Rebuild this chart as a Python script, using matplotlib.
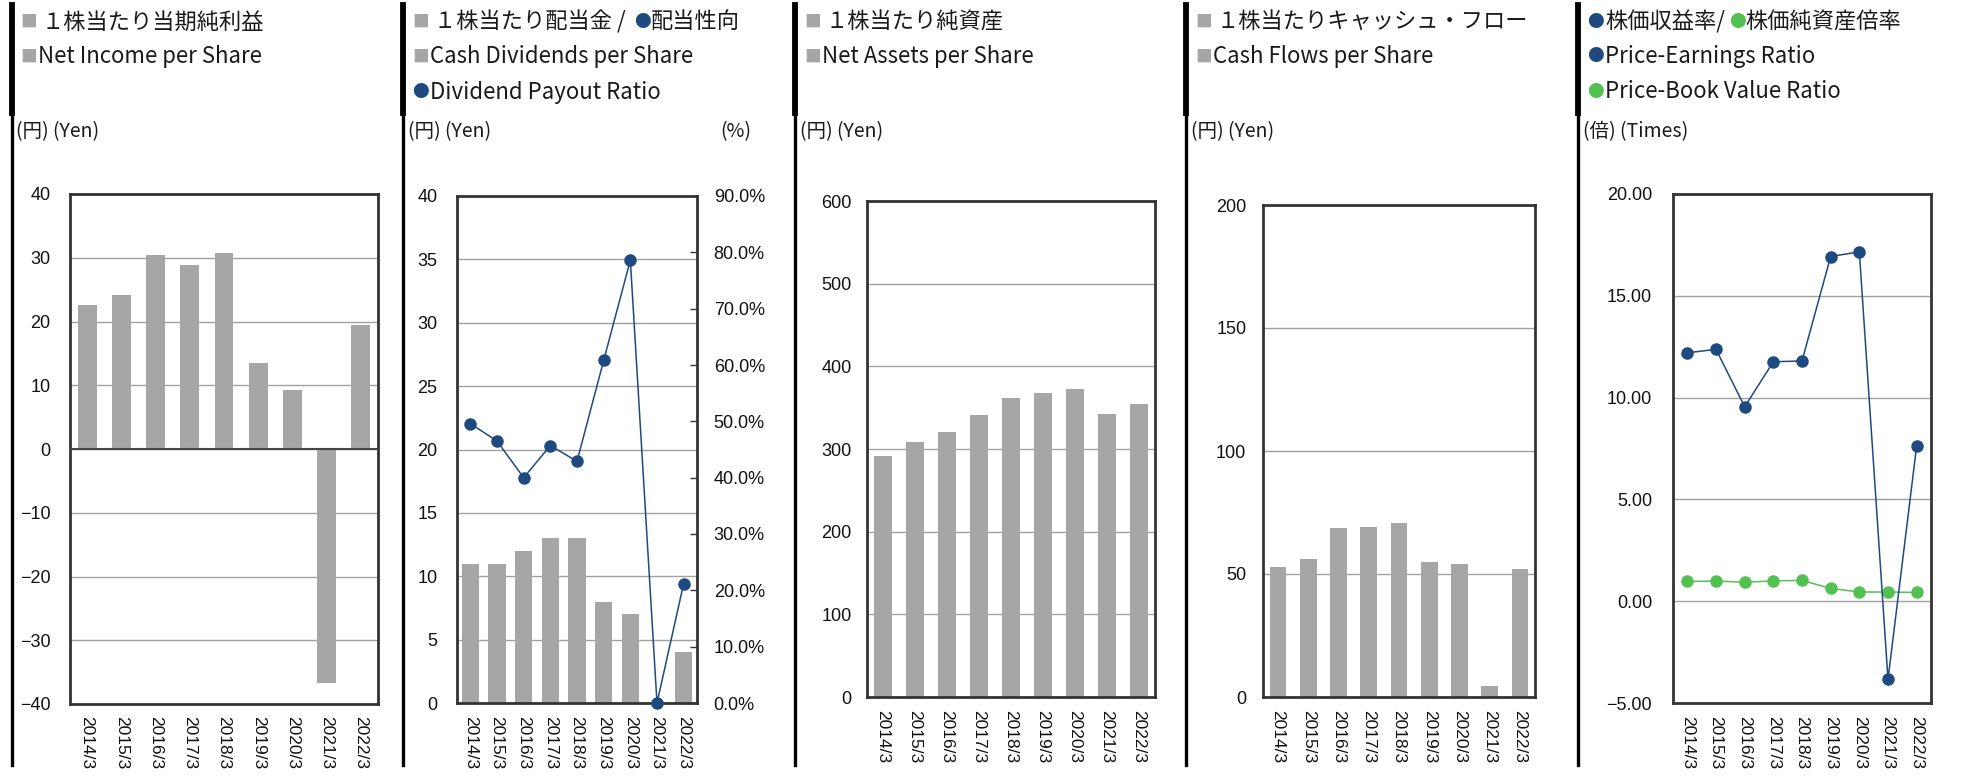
import numpy as np
import matplotlib
matplotlib.use("Agg")
import matplotlib.pyplot as plt
from matplotlib.lines import Line2D
from matplotlib.ticker import FuncFormatter

#Data
years = ['2014/3', '2015/3', '2016/3', '2017/3', '2018/3', '2019/3', '2020/3', '2021/3', '2022/3']
net_income = [22.6, 24.1, 30.5, 28.9, 30.8, 13.5, 9.2, -36.7, 19.4]
dividends = [11, 11, 12, 13, 13, 8, 7, 0, 4]
payout = [49.6, 46.5, 40.0, 45.7, 42.9, 60.8, 78.6, 0.0, 21.2]
net_assets = [292, 309, 321, 341, 362, 368, 372, 342, 354]
cash_flows = [52.9, 56.2, 68.9, 69.2, 70.7, 54.9, 54.2, 4.6, 52.1]
per = [12.2, 12.37, 9.55, 11.76, 11.8, 16.93, 17.16, -3.84, 7.63]
pbr = [0.97, 0.99, 0.93, 1.0, 1.02, 0.63, 0.45, 0.45, 0.43]

#Styling
W, H = 1965, 776
bar_c = '#a6a6a6'
grid_c = '#a0a0a0'
spine_c = '#333333'
blue = '#1f4a80'
green = '#52c152'
txt_c = '#1a1a1a'
jp = ['Noto Sans CJK JP', 'DejaVu Sans']
plt.rcParams['font.family'] = ['Liberation Sans', 'Noto Sans CJK JP', 'DejaVu Sans']

fig = plt.figure(figsize=(W / 100, H / 100), dpi=100)

def px_axes(l, t, r, b):
    return fig.add_axes([l / W, 1 - b / H, (r - l) / W, (b - t) / H])

def px_text(x, y, s, **kw):
    kw.setdefault('color', txt_c)
    kw.setdefault('family', jp)
    fig.text(x / W, 1 - y / H, s, va='center', ha=kw.pop('ha', 'left'), **kw)

def style(ax, ymin, ymax, step, fmt, pad):
    x = np.arange(len(years))
    ax.set_xlim(-0.5, len(years) - 0.5)
    ax.set_ylim(ymin, ymax)
    ax.set_yticks(np.arange(ymin, ymax + step / 2, step))
    ax.yaxis.set_major_formatter(FuncFormatter(fmt))
    ax.set_xticks(x)
    ax.set_xticklabels(years, rotation=270, va='top', ha='center')
    ax.tick_params(axis='both', length=0, colors='#111111')
    ax.tick_params(axis='y', pad=pad, labelsize=13)
    ax.tick_params(axis='x', pad=9, labelsize=12.5)
    ax.grid(axis='y', color=grid_c, lw=1)
    ax.set_axisbelow(True)
    for s in ax.spines.values():
        s.set_color(spine_c)
        s.set_linewidth(2)
    return x

#Panel 1: net income per share
ax1 = px_axes(70, 194, 378, 704)
x = style(ax1, -40, 40, 10, lambda v, p: f'{v:.0f}'.replace('-', '\u2212'), 14)
ax1.bar(x, net_income, width=0.55, color=bar_c, zorder=2)
ax1.axhline(0, color='#444444', lw=1.5, zorder=3)

#Panel 2: dividends + payout ratio
ax2 = px_axes(457, 196, 697, 703)
x = style(ax2, 0, 40, 5, lambda v, p: f'{v:.0f}', 14)
ax2.bar(x, dividends, width=0.65, color=bar_c, zorder=2)
ax2r = ax2.twinx()
ax2r.set_ylim(0, 90)
ax2r.set_yticks(np.arange(0, 91, 10))
ax2r.yaxis.set_major_formatter(FuncFormatter(lambda v, p: f'{v:.1f}%'))
ax2r.tick_params(axis='y', direction='in', length=5, width=1, color=spine_c,
                 labelsize=13, labelcolor='#111111', pad=12)
for s in ax2r.spines.values():
    s.set_visible(False)
ax2r.plot(x, payout, color=blue, lw=1.1, marker='o', ms=8, clip_on=False, zorder=5)

#Panel 3: net assets per share
ax3 = px_axes(867, 201, 1155, 697)
x = style(ax3, 0, 600, 100, lambda v, p: f'{v:.0f}', 11)
ax3.bar(x, net_assets, width=0.55, color=bar_c, zorder=2)

#Panel 4: cash flows per share
ax4 = px_axes(1263, 205, 1535, 697)
x = style(ax4, 0, 200, 50, lambda v, p: f'{v:.0f}', 12)
ax4.bar(x, cash_flows, width=0.55, color=bar_c, zorder=2)

#Panel 5: PER / PBR
ax5 = px_axes(1673, 194, 1931, 703)
x = style(ax5, -5, 20, 5, lambda v, p: f'{v:.2f}'.replace('-', '\u2212'), 15)
ax5.plot(x, per, color=blue, lw=1.1, marker='o', ms=8, zorder=5)
ax5.plot(x, pbr, color=green, lw=1.1, marker='o', ms=8, zorder=4)

#Separators between panels
for sx in [12, 403, 795, 1186, 1578]:
    fig.add_artist(Line2D([sx / W, sx / W], [1 - 5 / H, 1 - 113 / H], color='black', lw=4.2))
    fig.add_artist(Line2D([sx / W, sx / W], [1 - 113 / H, 1 - 765 / H], color='black', lw=2.4))

#Headers
js = 16
es = 16
sq = 12
def header(x0, lines, unit):
    for y, parts in lines:
        for dx, s, c, size in parts:
            px_text(x0 + dx, y, s, color=c, fontsize=size)
    px_text(x0 - 4, 132, unit, fontsize=14)

header(20, [(22, [(0, '■', bar_c, sq), (22, '１株当たり当期純利益', txt_c, js)]),
            (57, [(0, '■', bar_c, sq), (18, 'Net Income per Share', txt_c, es)])], '(円) (Yen)')
header(412, [(22, [(0, '■', bar_c, sq), (22, '１株当たり配当金 /', txt_c, js),
                   (222, '●', blue, sq), (239, '配当性向', txt_c, js)]),
             (57, [(0, '■', bar_c, sq), (18, 'Cash Dividends per Share', txt_c, es)]),
             (92, [(0, '●', blue, sq), (18, 'Dividend Payout Ratio', txt_c, es)])], '(円) (Yen)')
px_text(720, 132, '(%)', fontsize=14)
header(804, [(22, [(0, '■', bar_c, sq), (22, '１株当たり純資産', txt_c, js)]),
             (57, [(0, '■', bar_c, sq), (18, 'Net Assets per Share', txt_c, es)])], '(円) (Yen)')
header(1195, [(22, [(0, '■', bar_c, sq), (22, '１株当たりキャッシュ・フロー', txt_c, js)]),
              (57, [(0, '■', bar_c, sq), (18, 'Cash Flows per Share', txt_c, es)])], '(円) (Yen)')
header(1587, [(22, [(0, '●', blue, sq), (18, '株価収益率/', txt_c, js),
                    (142, '●', green, sq), (158, '株価純資産倍率', txt_c, js)]),
              (57, [(0, '●', blue, sq), (18, 'Price-Earnings Ratio', txt_c, es)]),
              (92, [(0, '●', green, sq), (18, 'Price-Book Value Ratio', txt_c, es)])], '(倍) (Times)')

fig.savefig('out.png', dpi=100)
